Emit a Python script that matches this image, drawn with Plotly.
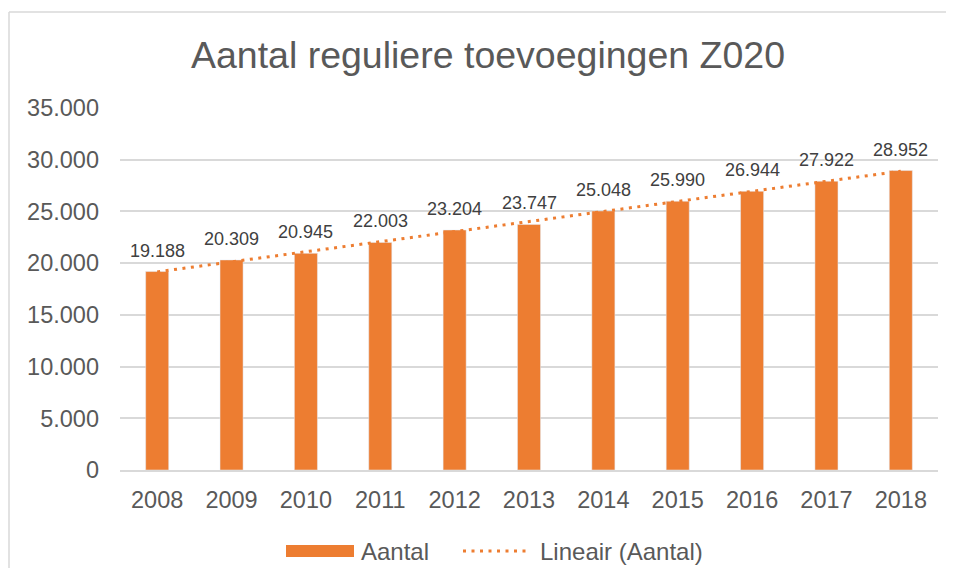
import plotly.graph_objects as go
import numpy as np

years = [2008, 2009, 2010, 2011, 2012, 2013, 2014, 2015, 2016, 2017, 2018]
aantal = [19188, 20309, 20945, 22003, 23204, 23747, 25048, 25990, 26944, 27922, 28952]
y_ticks = [0, 5000, 10000, 15000, 20000, 25000, 30000, 35000]
title_text = "Aantal reguliere toevoegingen Z020"
legend_labels = ["Aantal", "Lineair (Aantal)"]

ORANGE = "#ED7D31"
GREY_TXT = "#595959"
LABEL_TXT = "#404040"
GRID = "#D9D9D9"
FONT = "Liberation Sans, Arial, sans-serif"

OFF = 8  # page body margin
W, H = 955 - 2 * OFF, 580 - 2 * OFF - 4
# plot area in reference pixel coordinates
PL, PR, PT, PB = 120, 938, 108, 470
L, R, T, B = PL - OFF, W - (PR - OFF), PT - OFF, H - (PB - OFF)
PW = W - L - R
PH = H - T - B

def px(x):
    return (x - OFF - L) / PW

def py(y):
    return (H - B - (y - OFF)) / PH

xcat = [str(y) for y in years]
idx = np.arange(len(years))
coef = np.polyfit(idx, aantal, 1)
trend = np.polyval(coef, idx)

fig = go.Figure()
fig.add_trace(go.Bar(x=xcat, y=aantal, marker_color=ORANGE, width=0.31,
                     showlegend=False, hoverinfo="skip"))
fig.add_trace(go.Scatter(x=xcat, y=trend, mode="lines",
                         line=dict(color=ORANGE, width=3, dash="3px,5.5px"),
                         showlegend=False, hoverinfo="skip"))

for i, v in enumerate(aantal):
    fig.add_annotation(x=i, y=v, xref="x", yref="y", yanchor="bottom",
                       yshift=9, showarrow=False,
                       text=f"{v:,}".replace(",", "."),
                       font=dict(family=FONT, size=18, color=LABEL_TXT))

# chart border (left and top edges only are visible)
fig.add_shape(type="line", xref="paper", yref="paper",
              x0=px(9), x1=px(9), y0=py(575), y1=py(12),
              line=dict(color=GRID, width=1.5), layer="below")
fig.add_shape(type="line", xref="paper", yref="paper",
              x0=px(9), x1=px(946), y0=py(12), y1=py(12),
              line=dict(color=GRID, width=1.5), layer="below")

# custom legend
fig.add_shape(type="rect", xref="paper", yref="paper",
              x0=px(286), x1=px(354), y0=py(557), y1=py(545),
              fillcolor=ORANGE, line=dict(width=0))
fig.add_annotation(xref="paper", yref="paper", x=px(359), y=py(551),
                   xanchor="left", yanchor="middle", showarrow=False,
                   text=legend_labels[0],
                   font=dict(family=FONT, size=24, color=GREY_TXT))
fig.add_shape(type="line", xref="paper", yref="paper",
              x0=px(463), x1=px(529), y0=py(551), y1=py(551),
              line=dict(color=ORANGE, width=3, dash="3px,5.5px"))
fig.add_annotation(xref="paper", yref="paper", x=px(538), y=py(551),
                   xanchor="left", yanchor="middle", showarrow=False,
                   text=legend_labels[1],
                   font=dict(family=FONT, size=24, color=GREY_TXT))

fig.update_layout(
    width=W, height=H,
    margin=dict(l=L, r=R, t=T, b=B, autoexpand=False),
    paper_bgcolor="white", plot_bgcolor="white",
    separators=",.",
    title=dict(text=title_text, x=(488 - OFF) / W, xanchor="center",
               y=1 - (55 - OFF) / H, yanchor="middle",
               font=dict(family=FONT, size=37.5, color=GREY_TXT)),
    font=dict(family=FONT, color=GREY_TXT),
    bargap=0.69,
    showlegend=False,
)
fig.update_yaxes(range=[0, 35000], tickvals=y_ticks, tickformat=",d",
                 showgrid=True, gridcolor=GRID, gridwidth=1.5,
                 zeroline=False, showline=False, ticks="",
                 ticklabelstandoff=20, automargin=False,
                 tickfont=dict(family=FONT, size=23.5, color=GREY_TXT))
fig.update_xaxes(type="category", range=[-0.5, len(years) - 0.5],
                 showgrid=False, showline=True,
                 linecolor=GRID, linewidth=1.5,
                 ticks="", ticklabelstandoff=8, automargin=False,
                 tickfont=dict(family=FONT, size=23.5, color=GREY_TXT))

fig.write_html("out.html")
